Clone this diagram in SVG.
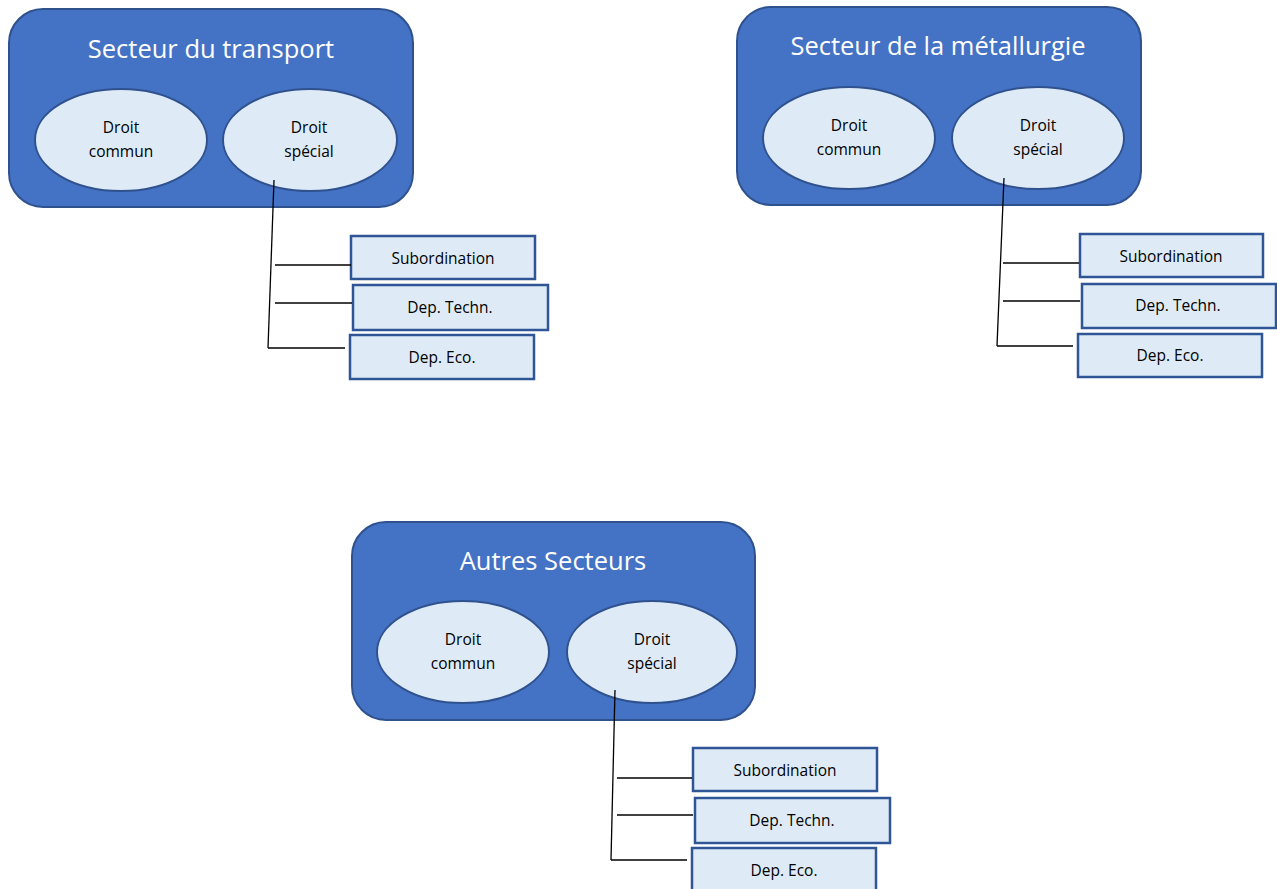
<svg xmlns="http://www.w3.org/2000/svg" width="1277" height="889" viewBox="0 0 1277 889">
<style>
.sector{fill:#4472C4;stroke:#2F528F;stroke-width:2}
.ell{fill:#DEEBF7;stroke:#2F528F;stroke-width:2}
.box{fill:#DEEBF7;stroke:#2F5597;stroke-width:2.5}
.title{font-family:"Open Sans","Liberation Sans",sans-serif;font-size:25.5px;fill:#FFFFFF;text-anchor:middle}
.lbl{font-family:"Open Sans","Liberation Sans",sans-serif;font-size:15.5px;fill:#000000;text-anchor:middle}
.conn{stroke:#000000;stroke-width:1.3;fill:none}
</style>
<rect width="1277" height="889" fill="#FFFFFF"/>

<g id="sector-transport">
<rect class="sector" x="9" y="9" width="404" height="198" rx="34"/>
<text class="title" x="211" y="58">Secteur du transport</text>
</g>
<g id="transport-commun">
<ellipse class="ell" cx="121" cy="140" rx="86" ry="51"/>
<text class="lbl" x="121" y="133">Droit</text>
<text class="lbl" x="121" y="157">commun</text>
</g>
<g id="transport-special">
<ellipse class="ell" cx="310" cy="140" rx="87" ry="51"/>
<text class="lbl" x="309" y="133">Droit</text>
<text class="lbl" x="309" y="157">spécial</text>
</g>
<g id="transport-sub">
<rect class="box" x="351" y="236" width="184" height="43"/>
<text class="lbl" x="443" y="264">Subordination</text>
</g>
<g id="transport-tech">
<rect class="box" x="353" y="285" width="195" height="45"/>
<text class="lbl" x="450" y="313">Dep. Techn.</text>
</g>
<g id="transport-eco">
<rect class="box" x="350" y="335" width="184" height="44"/>
<text class="lbl" x="442" y="363">Dep. Eco.</text>
</g>

<g id="sector-metal">
<rect class="sector" x="737" y="7" width="404" height="198" rx="34"/>
<text class="title" x="938" y="55">Secteur de la métallurgie</text>
</g>
<g id="metal-commun">
<ellipse class="ell" cx="849" cy="138" rx="86" ry="51"/>
<text class="lbl" x="849" y="131">Droit</text>
<text class="lbl" x="849" y="155">commun</text>
</g>
<g id="metal-special">
<ellipse class="ell" cx="1038" cy="138" rx="86" ry="51"/>
<text class="lbl" x="1038" y="131">Droit</text>
<text class="lbl" x="1038" y="155">spécial</text>
</g>
<g id="metal-sub">
<rect class="box" x="1080" y="234" width="183" height="43"/>
<text class="lbl" x="1171" y="262">Subordination</text>
</g>
<g id="metal-tech">
<rect class="box" x="1082" y="284" width="194" height="44"/>
<text class="lbl" x="1178" y="311">Dep. Techn.</text>
</g>
<g id="metal-eco">
<rect class="box" x="1078" y="334" width="184" height="43"/>
<text class="lbl" x="1170" y="361">Dep. Eco.</text>
</g>

<g id="sector-autres">
<rect class="sector" x="352" y="522" width="403" height="198" rx="34"/>
<text class="title" x="553" y="570">Autres Secteurs</text>
</g>
<g id="autres-commun">
<ellipse class="ell" cx="463" cy="652" rx="86" ry="51"/>
<text class="lbl" x="463" y="645">Droit</text>
<text class="lbl" x="463" y="669">commun</text>
</g>
<g id="autres-special">
<ellipse class="ell" cx="652" cy="652" rx="85" ry="51"/>
<text class="lbl" x="652" y="645">Droit</text>
<text class="lbl" x="652" y="669">spécial</text>
</g>
<g id="autres-sub">
<rect class="box" x="693" y="748" width="184" height="43"/>
<text class="lbl" x="785" y="776">Subordination</text>
</g>
<g id="autres-tech">
<rect class="box" x="695" y="798" width="195" height="45"/>
<text class="lbl" x="792" y="826">Dep. Techn.</text>
</g>
<g id="autres-eco">
<rect class="box" x="692" y="848" width="184" height="44"/>
<text class="lbl" x="784" y="876">Dep. Eco.</text>
</g>

<g id="connectors">
<line class="conn" x1="274" y1="180" x2="268" y2="348"/>
<line class="conn" x1="275" y1="265" x2="351" y2="265"/>
<line class="conn" x1="275" y1="303" x2="352" y2="303"/>
<line class="conn" x1="268" y1="348" x2="345" y2="348"/>

<line class="conn" x1="1004" y1="178" x2="997" y2="346"/>
<line class="conn" x1="1003" y1="263" x2="1079" y2="263"/>
<line class="conn" x1="1003" y1="301" x2="1080" y2="301"/>
<line class="conn" x1="997" y1="346" x2="1073" y2="346"/>

<line class="conn" x1="615" y1="690" x2="611" y2="860"/>
<line class="conn" x1="617" y1="778" x2="692" y2="778"/>
<line class="conn" x1="617" y1="815" x2="693" y2="815"/>
<line class="conn" x1="611" y1="860" x2="687" y2="860"/>
</g>
</svg>
